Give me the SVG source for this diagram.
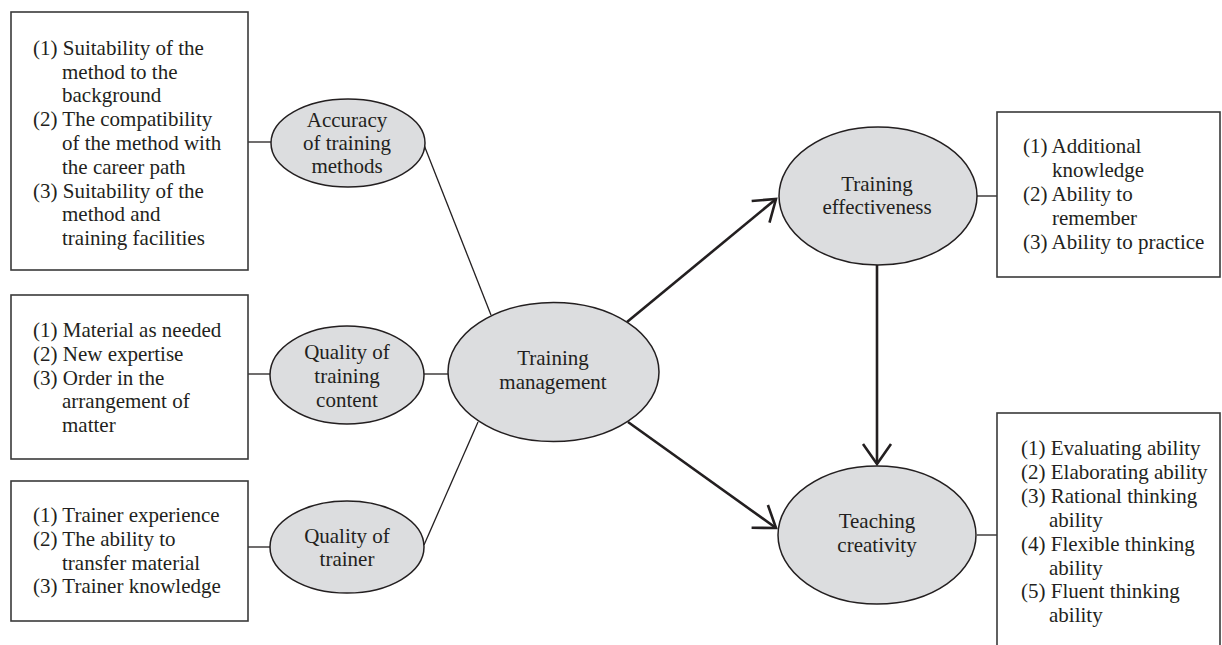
<svg xmlns="http://www.w3.org/2000/svg" width="1222" height="645" viewBox="0 0 1222 645">
  <style>
    .box { fill: #ffffff; stroke: #3a3a3a; stroke-width: 1.6; }
    .ell { fill: #dcdddf; stroke: #231f20; stroke-width: 1.5; }
    .t { font-family: "Liberation Serif", "Times New Roman", serif; font-size: 21px; fill: #231f20; }
    .c { text-anchor: middle; }
    .thin { stroke: #231f20; stroke-width: 1.3; fill: none; }
    .bold { stroke: #231f20; stroke-width: 2.6; fill: none; }
  </style>
  <defs>
    <!-- open V arrowhead, tip at the path end -->
    <marker id="arr" viewBox="-24 -17 27 34" refX="0" refY="0" markerWidth="27" markerHeight="34" markerUnits="userSpaceOnUse" orient="auto">
      <path d="M-20,-14 L0,0 L-20,14" fill="none" stroke="#231f20" stroke-width="2.6" stroke-linejoin="miter"/>
    </marker>
  </defs>

  <!-- connectors -->
  <g id="connectors">
    <line class="thin" x1="248" y1="142" x2="271" y2="142"/>
    <line class="thin" x1="248" y1="374" x2="270" y2="374"/>
    <line class="thin" x1="248" y1="547" x2="270" y2="547"/>
    <line class="thin" x1="424" y1="145" x2="491" y2="315"/>
    <line class="thin" x1="424" y1="374" x2="448" y2="374"/>
    <line class="thin" x1="424" y1="545" x2="478" y2="422"/>
    <line class="thin" x1="977" y1="196" x2="997" y2="196"/>
    <line class="thin" x1="977" y1="535" x2="997" y2="535"/>
    <line class="bold" x1="627" y1="322" x2="776" y2="199" marker-end="url(#arr)"/>
    <line class="bold" x1="628" y1="422" x2="776" y2="528" marker-end="url(#arr)"/>
    <line class="bold" x1="877" y1="265" x2="877" y2="464" marker-end="url(#arr)"/>
  </g>

  <!-- indicator boxes -->
  <g id="box-methods">
    <rect class="box" x="11" y="12" width="237" height="258"/>
    <text class="t" x="33" y="55">(1) Suitability of the</text>
    <text class="t" x="62" y="79">method to the</text>
    <text class="t" x="62" y="102">background</text>
    <text class="t" x="33" y="126">(2) The compatibility</text>
    <text class="t" x="62" y="150">of the method with</text>
    <text class="t" x="62" y="174">the career path</text>
    <text class="t" x="33" y="198">(3) Suitability of the</text>
    <text class="t" x="62" y="221">method and</text>
    <text class="t" x="62" y="245">training facilities</text>
  </g>
  <g id="box-content">
    <rect class="box" x="11" y="295" width="237" height="164"/>
    <text class="t" x="33" y="337">(1) Material as needed</text>
    <text class="t" x="33" y="361">(2) New expertise</text>
    <text class="t" x="33" y="385">(3) Order in the</text>
    <text class="t" x="62" y="408">arrangement of</text>
    <text class="t" x="62" y="432">matter</text>
  </g>
  <g id="box-trainer">
    <rect class="box" x="11" y="481" width="237" height="140"/>
    <text class="t" x="33" y="522">(1) Trainer experience</text>
    <text class="t" x="33" y="546">(2) The ability to</text>
    <text class="t" x="62" y="570">transfer material</text>
    <text class="t" x="33" y="593">(3) Trainer knowledge</text>
  </g>
  <g id="box-effectiveness">
    <rect class="box" x="997" y="112" width="223" height="165"/>
    <text class="t" x="1023" y="153">(1) Additional</text>
    <text class="t" x="1052" y="177">knowledge</text>
    <text class="t" x="1023" y="201">(2) Ability to</text>
    <text class="t" x="1052" y="225">remember</text>
    <text class="t" x="1023" y="249">(3) Ability to practice</text>
  </g>
  <g id="box-creativity">
    <rect class="box" x="997" y="413" width="223" height="240"/>
    <text class="t" x="1021" y="455">(1) Evaluating ability</text>
    <text class="t" x="1021" y="479">(2) Elaborating ability</text>
    <text class="t" x="1021" y="503">(3) Rational thinking</text>
    <text class="t" x="1049" y="527">ability</text>
    <text class="t" x="1021" y="551">(4) Flexible thinking</text>
    <text class="t" x="1049" y="575">ability</text>
    <text class="t" x="1021" y="598">(5) Fluent thinking</text>
    <text class="t" x="1049" y="622">ability</text>
  </g>

  <!-- constructs -->
  <g id="accuracy-methods">
    <ellipse class="ell" cx="348" cy="143" rx="77" ry="44"/>
    <text class="t c" x="347" y="127">Accuracy</text>
    <text class="t c" x="347" y="150">of training</text>
    <text class="t c" x="347" y="173">methods</text>
  </g>
  <g id="quality-content">
    <ellipse class="ell" cx="347" cy="375" rx="77" ry="49"/>
    <text class="t c" x="347" y="359">Quality of</text>
    <text class="t c" x="347" y="383">training</text>
    <text class="t c" x="347" y="407">content</text>
  </g>
  <g id="quality-trainer">
    <ellipse class="ell" cx="347" cy="547" rx="77" ry="46"/>
    <text class="t c" x="347" y="543">Quality of</text>
    <text class="t c" x="347" y="566">trainer</text>
  </g>
  <g id="training-management">
    <ellipse class="ell" cx="553.5" cy="372" rx="105.5" ry="69.5"/>
    <text class="t c" x="553" y="365">Training</text>
    <text class="t c" x="553" y="389">management</text>
  </g>
  <g id="training-effectiveness">
    <ellipse class="ell" cx="878" cy="196" rx="99" ry="69"/>
    <text class="t c" x="877" y="191">Training</text>
    <text class="t c" x="877" y="214">effectiveness</text>
  </g>
  <g id="teaching-creativity">
    <ellipse class="ell" cx="877" cy="535" rx="99" ry="69"/>
    <text class="t c" x="877" y="528">Teaching</text>
    <text class="t c" x="877" y="552">creativity</text>
  </g>
</svg>
